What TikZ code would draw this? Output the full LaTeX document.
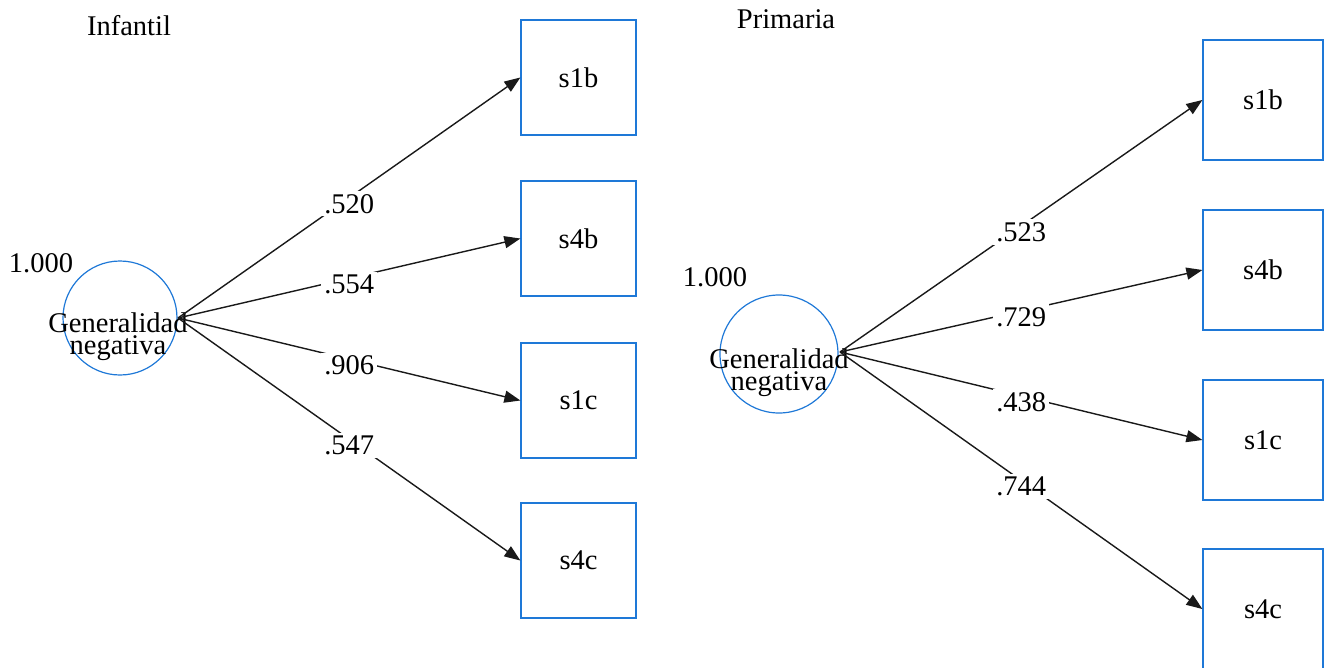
\documentclass[tikz,border=0pt]{standalone}
\usepackage{fontspec}
\setmainfont{Liberation Serif}
\usetikzlibrary{arrows.meta}
\definecolor{nodeblue}{RGB}{30,120,215}
\tikzset{
  every node/.style={font=\fontsize{28.5}{22}\selectfont},
  obsbox/.style={draw=nodeblue, line width=1.2pt, minimum width=#1, minimum height=#1, inner sep=0pt},
  latent/.style={draw=nodeblue, line width=1.2pt, circle, minimum size=#1, inner sep=0pt},
  path/.style={draw=black!90, line width=1.4pt, -{Triangle[length=16pt,width=12pt]}},
  coef/.style={fill=white, inner sep=3pt, pos=0.5, yshift=-6pt},
}
\begin{document}
\begin{tikzpicture}[x=1pt,y=-1pt]
\useasboundingbox (0,0) rectangle (1328,667);

% Infantil group
\node (titleA) at (129,26) {Infantil};
\node[latent=114] (lvA) at (120,318) {};
\node[align=center] (lvAtxt) at (118,337) {Generalidad\\negativa};
\node (varA) at (41,263) {1.000};
\coordinate (srcA) at (178,318);
\node[obsbox=115] (a1) at (578.5,77.5) {s1b};
\node[obsbox=115] (a2) at (578.5,238.5) {s4b};
\node[obsbox=115] (a3) at (578.5,400.5) {s1c};
\node[obsbox=115] (a4) at (578.5,560.5) {s4c};
\draw[path] (srcA) -- (a1.west) node[coef] {.520};
\draw[path] (srcA) -- (a2.west) node[coef] {.554};
\draw[path] (srcA) -- (a3.west) node[coef] {.906};
\draw[path] (srcA) -- (a4.west) node[coef] {.547};

% Primaria group
\node (titleB) at (786,19) {Primaria};
\node[latent=118] (lvB) at (779,354) {};
\node[align=center] (lvBtxt) at (779,373) {Generalidad\\negativa};
\node (varB) at (715,277) {1.000};
\coordinate (srcB) at (840,352);
\node[obsbox=120] (b1) at (1263,100) {s1b};
\node[obsbox=120] (b2) at (1263,270) {s4b};
\node[obsbox=120] (b3) at (1263,440) {s1c};
\node[obsbox=120] (b4) at (1263,609) {s4c};
\draw[path] (srcB) -- (b1.west) node[coef] {.523};
\draw[path] (srcB) -- (b2.west) node[coef] {.729};
\draw[path] (srcB) -- (b3.west) node[coef] {.438};
\draw[path] (srcB) -- (b4.west) node[coef] {.744};
\end{tikzpicture}
\end{document}
